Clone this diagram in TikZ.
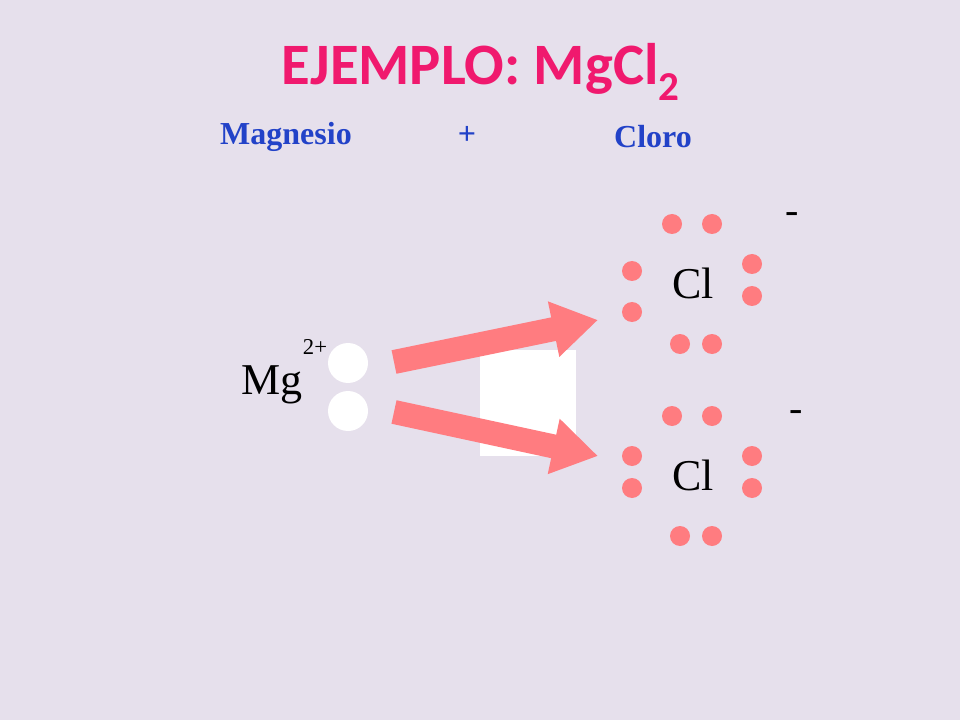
\documentclass[tikz,border=0pt]{standalone}
\usepackage{fontspec}
\setmainfont{Liberation Serif}
\newfontfamily\titlefont{Carlito}
\usetikzlibrary{arrows.meta}
\definecolor{bg}{HTML}{E6E0EC}
\definecolor{ttl}{HTML}{F0196E}
\definecolor{sub}{HTML}{2242C8}
\definecolor{salmon}{HTML}{FF7C80}
\tikzset{
  dot/.style={circle,fill=salmon,minimum size=15pt,inner sep=0pt},
  wdot/.style={circle,fill=white,minimum size=30pt,inner sep=0pt},
  subt/.style={text=sub,font=\bfseries\fontsize{24}{28}\selectfont},
  bigarrow/.style={salmon,line width=18pt,-{Triangle[length=34pt,width=40pt]}},
  elem/.style={font=\fontsize{33}{36}\selectfont},
  chg/.style={font=\fontsize{30}{32}\selectfont}
}
\begin{document}
\begin{tikzpicture}[x=0.75pt,y=-0.75pt]
\fill[bg] (0,0) rectangle (960,720);
\useasboundingbox (0,0) rectangle (960,720);
\node[text=ttl,font=\titlefont\bfseries\fontsize{44}{50}\selectfont] (title) at (481,72) {EJEMPLO: MgCl\textsubscript{2}};
\node[subt] (mg1) at (286,137) {Magnesio};
\node[subt] (plus) at (467,135) {+};
\node[subt] (cl0) at (653,137) {Cloro};
\node[fill=white,minimum width=72pt,minimum height=79.5pt,inner sep=0pt] (box) at (528,403) {};
\node[elem] (mg) at (272,385) {Mg};
\node[font=\fontsize{17}{20}\selectfont] (chg2) at (315,347) {2+};
\node[wdot] (w1) at (348,363) {};
\node[wdot] (w2) at (348,411) {};
\coordinate (a1s) at (394,362);
\coordinate (a1e) at (598,320);
\coordinate (a2s) at (394,412);
\coordinate (a2e) at (598,456);
\draw[bigarrow] (a1s) -- (a1e);
\draw[bigarrow] (a2s) -- (a2e);
\node[elem] (clA) at (693,283) {Cl};
\node[elem] (clB) at (693,475) {Cl};
\foreach \n/\x/\y in {a1/672/224,a2/712/224,a3/632/271,a4/632/312,a5/752/264,a6/752/296,a7/680/344,a8/712/344,
 b1/672/416,b2/712/416,b3/632/456,b4/632/488,b5/752/456,b6/752/488,b7/680/536,b8/712/536}
  \node[dot] (\n) at (\x,\y) {};
\node[chg] (m1) at (792,218) {-};
\node[chg] (m2) at (796,416) {-};
\end{tikzpicture}
\end{document}
